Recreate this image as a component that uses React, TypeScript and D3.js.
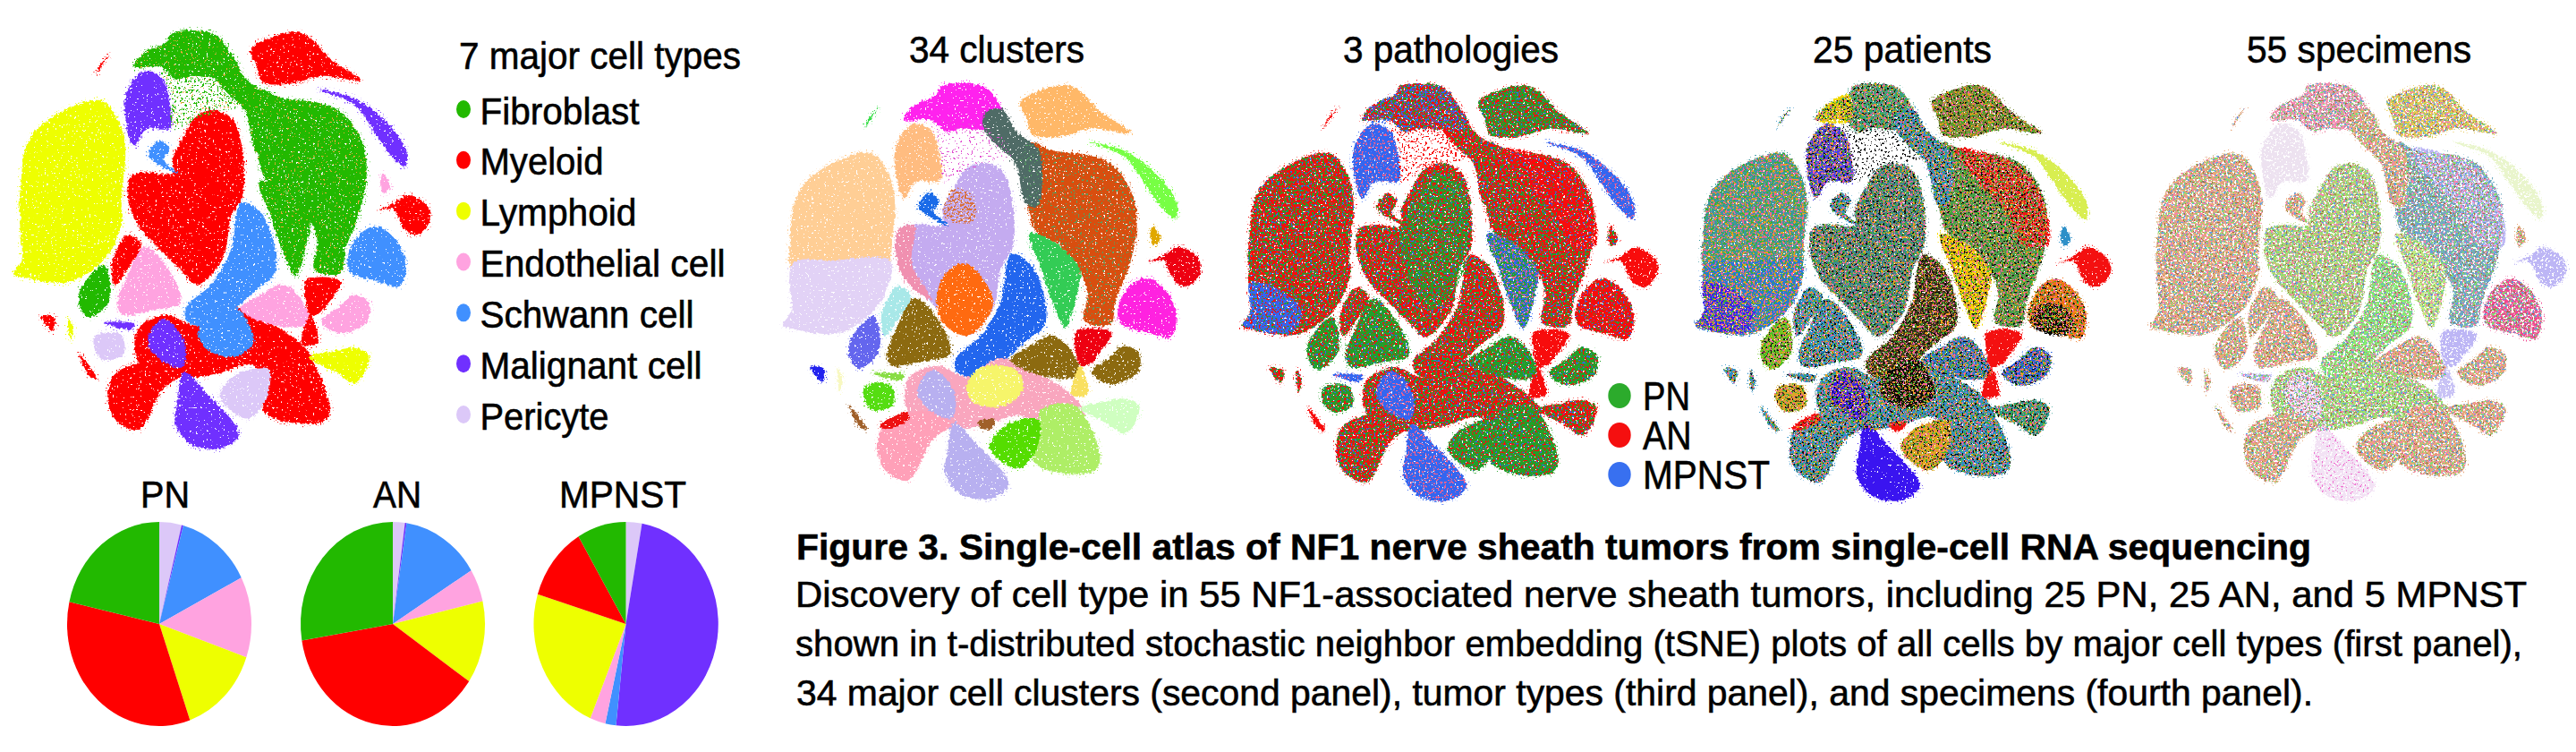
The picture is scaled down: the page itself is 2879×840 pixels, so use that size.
import * as d3 from "d3";

// cell types, legend order
const cellTypes = ["Fibroblast", "Myeloid", "Lymphoid", "Endothelial cell", "Schwann cell", "Malignant cell", "Pericyte"];
const cellColors = ["#22B900", "#FF0000", "#EEFF00", "#FFA3E0", "#4090FF", "#7030FF", "#DCC8F8"];

// pie shares (%), clockwise from 12 o'clock
const pieOrder = ["Pericyte", "Malignant cell", "Schwann cell", "Endothelial cell", "Lymphoid", "Myeloid", "Fibroblast"];
const pnShares = [3.9, 0.3, 13.3, 12.8, 14.3, 33.9, 21.5];
const anShares = [2.1, 0.3, 13.8, 5.2, 13.1, 37.9, 27.6];
const mpnstShares = [2.8, 48.9, 1.9, 2.7, 23.4, 11.7, 8.6];

// tSNE islands
type Pt = [number, number];
const redRing: Pt[] = [[480,1015],[540,1060],[610,1130],[640,1200],[600,1250],[545,1235],[510,1205],[440,1235],[375,1250],[300,1235],[275,1150],[285,1080],[340,1040],[395,1075],[440,1060]];
const lobeRight: Pt[] = [[550,1190],[620,1170],[672,1340],[662,1388],[580,1392],[535,1350],[550,1240]];
const lobeLeft: Pt[] = [[320,1190],[370,1230],[330,1290],[295,1400],[280,1422],[235,1385],[220,1310],[235,1235]];
const pinkLeft: Pt[] = [[295,815],[340,880],[368,1000],[312,1025],[250,1040],[240,1000],[258,920]];
const redLeft: Pt[] = [[262,775],[288,810],[262,885],[235,940],[228,880],[240,820]];
const greenLeft: Pt[] = [[212,875],[224,990],[182,1048],[163,1010],[165,955]];
const lymphoidUpper: Pt[] = [[205,333],[242,400],[256,500],[250,620],[246,700],[235,740],[130,700],[48,720],[44,600],[58,470],[100,395]];
const lymphoidLower: Pt[] = [[246,690],[238,790],[205,870],[140,932],[50,918],[28,905],[45,860],[48,700],[130,690]];
const malignantUpper: Pt[] = [[292,238],[329,257],[347,346],[347,425],[298,429],[274,484],[256,385],[259,306]];
const fibroTop: Pt[] = [[350,112],[438,115],[474,188],[490,250],[438,257],[389,252],[359,262],[329,223],[274,223],[292,178],[341,139]];
const fibroNeck: Pt[] = [[438,200],[474,188],[499,257],[529,297],[550,330],[545,510],[523,503],[499,365],[462,306],[438,257]];
const fibroMain: Pt[] = [[529,297],[577,326],[650,341],[699,375],[741,484],[746,602],[729,720],[705,818],[693,902],[641,892],[647,798],[632,730],[590,640],[545,600],[529,540],[523,440],[510,360]];
const fibroLeg: Pt[] = [[529,600],[575,625],[620,690],[632,730],[626,798],[602,912],[578,838],[553,720]];
const topRed: Pt[] = [[596,108],[626,120],[675,198],[735,267],[656,252],[596,277],[535,272],[523,218],[511,164]];
const strip: Pt[] = [[650,298],[720,325],[785,400],[828,500],[825,552],[795,510],[760,430],[720,345]];
const myeloid: Pt[] = [[438,366],[474,395],[493,484],[495,641],[471,720],[456,848],[420,925],[400,940],[365,887],[316,808],[280,739],[261,651],[268,582],[300,570],[353,572],[353,523],[377,444],[401,385]];
const myeloidOrange: Pt[] = [[395,700],[430,740],[455,830],[435,900],[400,940],[355,900],[340,820],[360,730]];
const myeloidPink: Pt[] = [[262,590],[295,575],[290,700],[330,820],[290,780],[262,700]];
const myeloidFleck: Pt[] = [[375,452],[415,480],[418,560],[380,565],[355,540]];
const myeloidCore: Pt[] = [[430,400],[480,450],[490,620],[470,760],[420,850],[370,760],[350,600],[380,480]];
const blueSmall: Pt[] = [[325,465],[345,490],[335,530],[365,575],[325,545],[303,510]];
const redRight: Pt[] = [[830,645],[870,680],[876,730],[850,775],[825,760],[800,690],[770,695],[800,675]];
const goldSliver: Pt[] = [[780,575],[795,620],[780,640],[775,600]];
const blueRight: Pt[] = [[765,748],[805,790],[827,870],[815,945],[770,930],[715,900],[708,860],[730,780]];
const blueRightCore: Pt[] = [[740,830],[790,850],[800,920],[760,935],[715,900],[725,850]];
const schwannUpper: Pt[] = [[492,670],[529,700],[559,808],[559,907],[523,956],[480,1020],[440,1075],[385,1065],[378,1020],[430,940],[470,830]];
const schwannLower: Pt[] = [[440,1035],[480,1015],[507,1070],[517,1130],[482,1177],[430,1162],[404,1110],[415,1065]];
const yellowDisc: Pt[] = [[460,1037],[505,1060],[517,1110],[495,1160],[455,1177],[415,1160],[401,1110],[420,1055]];
const pinkMid: Pt[] = [[575,940],[612,985],[630,1070],[560,1075],[490,1020],[530,975]];
const redSmall: Pt[] = [[625,925],[695,930],[670,1000],[650,1035],[632,1040],[622,980]];
const redThin: Pt[] = [[632,1040],[648,1132],[615,1138]];
const pinkRight: Pt[] = [[720,975],[752,1000],[747,1065],[690,1100],[655,1060],[690,1015]];
const yellowSmall: Pt[] = [[630,1180],[680,1160],[725,1150],[752,1175],[725,1265],[680,1225]];
const pericyte: Pt[] = [[195,1108],[247,1105],[252,1170],[210,1187],[193,1150]];
const pericyteLower: Pt[] = [[547,1218],[542,1320],[505,1382],[448,1310],[480,1240]];
const malignantCentre: Pt[] = [[335,1053],[377,1130],[372,1212],[335,1197],[303,1140],[308,1090]];
const malignantLower: Pt[] = [[375,1228],[422,1300],[487,1435],[450,1480],[390,1467],[358,1400],[363,1320]];
const sliverTop: Pt[] = [[222,185],[205,225],[195,250],[205,215]];
const sliverLeft: Pt[] = [[85,1045],[112,1050],[108,1095]];
const sliverYellow: Pt[] = [[140,1050],[150,1085],[143,1125]];
const sliverPurple: Pt[] = [[212,1065],[275,1070],[268,1088]];
const sliverBottom: Pt[] = [[162,1170],[198,1250],[185,1245]];
const redBar: Pt[] = [[225,1240],[280,1195],[285,1215],[235,1250]];
const fleck: Pt[] = [[424,1225],[459,1220],[450,1248],[430,1248]];
const hole: Pt[] = [[330,235],[450,250],[495,345],[440,370],[380,410],[352,430],[345,300]];
const bandRight: Pt[] = [[560,320],[640,340],[700,390],[745,520],[748,640],[700,640],[660,520],[600,420]];
const lymphoidEdge: Pt[] = [[45,760],[110,790],[150,860],[130,925],[50,915],[30,900],[45,860]];
const fibroEdge: Pt[] = [[274,223],[292,178],[341,139],[345,225]];

const shapes: Record<string, Pt[]> = {
  redRing, lobeRight, lobeLeft, pinkLeft, redLeft, greenLeft, lymphoidUpper, lymphoidLower,
  malignantUpper, fibroTop, fibroMain, fibroNeck, fibroLeg, topRed, strip, myeloid,
  blueSmall, redRight, goldSliver, blueRight, schwannUpper, schwannLower, pinkMid, redSmall,
  redThin, pinkRight, yellowSmall, pericyte, pericyteLower, malignantCentre, malignantLower,
  sliverTop, sliverLeft, sliverYellow, sliverPurple, sliverBottom,
  redBar, fleck, myeloidOrange, myeloidPink, myeloidFleck, myeloidCore, yellowDisc,
  blueRightCore, bandRight, lymphoidEdge, fibroEdge, hole,
};
const names = Object.keys(shapes);
const extras = ["redBar", "fleck", "myeloidOrange", "myeloidPink", "myeloidFleck", "myeloidCore", "yellowDisc", "blueRightCore", "bandRight", "lymphoidEdge", "fibroEdge", "hole"];
const islands = names.filter((n) => !extras.includes(n));

type Colors = Record<string, string>;
const paint = (color: string, over: Colors = {}, skip: string[] = []): Colors => {
  const out: Colors = {};
  islands.filter((n) => !skip.includes(n)).forEach((n) => (out[n] = color));
  return { ...out, ...over };
};
const byNames = (list: string[], color: string): Colors => Object.fromEntries(list.map((n) => [n, color]));

const [cGreen, cRed, cYellow, cPink, cBlue, cPurple, cLav] = cellColors;
const typeMap: Colors = {
  redRing: cRed, lobeRight: cRed, lobeLeft: cRed, pinkLeft: cPink, redLeft: cRed, greenLeft: cGreen,
  lymphoidUpper: cYellow, lymphoidLower: cYellow, malignantUpper: cPurple, fibroTop: cGreen, fibroMain: cGreen,
  fibroNeck: cGreen, fibroLeg: cGreen, topRed: cRed, strip: cPurple, myeloid: cRed, blueSmall: cBlue,
  redRight: cRed, goldSliver: cPink, blueRight: cBlue, schwannUpper: cBlue, schwannLower: cBlue, pinkMid: cPink,
  redSmall: cRed, redThin: cRed, pinkRight: cPink, yellowSmall: cYellow, pericyte: cLav, pericyteLower: cLav,
  malignantCentre: cPurple, malignantLower: cPurple, sliverTop: cRed, sliverLeft: cRed, sliverYellow: cYellow,
  sliverPurple: cPurple, sliverBottom: cRed,
};
const clusterMap: Colors = {
  redRing: "#F9A6BE", lobeRight: "#AEEE66", lobeLeft: "#FFA0B8", pinkLeft: "#8C6A10", redLeft: "#A8E8E8", greenLeft: "#6466EE",
  lymphoidUpper: "#FFCE95", lymphoidLower: "#E2D2F6", malignantUpper: "#FFBC80", fibroTop: "#FF22EE", fibroMain: "#D84E0F",
  fibroNeck: "#4F6B66", fibroLeg: "#33CC55", topRed: "#FFB868", strip: "#77FF44", myeloid: "#C4ABF0", blueSmall: "#1A6BE8",
  redRight: "#EE0011", goldSliver: "#E0A800", blueRight: "#FF22E0", schwannUpper: "#2266EE", schwannLower: "#F9A6BE", pinkMid: "#8C6A10",
  redSmall: "#EE0011", redThin: "#F9E060", pinkRight: "#8C6A10", yellowSmall: "#CFFFC0", pericyte: "#55DD11", pericyteLower: "#55DD00",
  malignantCentre: "#B8B0F0", malignantLower: "#B8B0F0", sliverTop: "#33DD44", sliverLeft: "#2222EE", sliverYellow: "#F8F8C0",
  sliverPurple: "#88DD44", sliverBottom: "#A0602A", redBar: "#EE1111", fleck: "#A0602A",
  myeloidOrange: "#FF6A10", myeloidPink: "#F090B0", yellowDisc: "#F6F56A",
};

const pRed = "#F80C0C", pGreen = "#22A028", pBlue = "#3366F0";
const pathBlue = ["malignantUpper", "strip", "malignantCentre", "malignantLower", "sliverPurple", "fibroLeg"];
const pathGreenBase = ["pinkLeft", "pinkMid", "pinkRight", "greenLeft", "pericyteLower", "lobeRight", "pericyte"];
const pathPure = ["redRight", "redSmall", "redThin", "sliverBottom", "sliverTop"];
const fibroShapes = ["fibroTop", "fibroMain", "fibroNeck", "fibroLeg", "hole"];

type Layer = { colors: Colors; cut?: number; seed?: number };
type Panel = { layers: Layer[] };

const typesPanel: Panel = {
  layers: [
    { colors: typeMap },
    { colors: paint("#FFFFFF"), cut: 0.7, seed: 4 },
    { colors: byNames(fibroShapes, "#F0A838"), cut: 0.7, seed: 15 },
    { colors: { hole: cGreen }, cut: 0.6, seed: 9 },
  ],
};
const clustersPanel: Panel = {
  layers: [
    { colors: clusterMap },
    { colors: { myeloidFleck: "#D8703A" }, cut: 0.53, seed: 5 },
    { colors: paint("#FFFFFF"), cut: 0.69, seed: 4 },
    { colors: { fibroMain: "#55A060", hole: "#E050D0" }, cut: 0.66, seed: 6 },
  ],
};
const pathologyPanel: Panel = {
  layers: [
    { colors: paint(pRed, { ...byNames(pathBlue, pBlue), ...byNames(pathGreenBase, pGreen) }) },
    { colors: paint(pGreen, { ...byNames(pathBlue, pBlue), ...byNames(pathGreenBase, pGreen) }, pathPure), cut: 0.53, seed: 2 },
    { colors: { myeloidCore: pGreen, topRed: pGreen, fibroLeg: pGreen }, cut: 0.48, seed: 12 },
    { colors: { bandRight: pRed, lymphoidEdge: pBlue, malignantUpper: pBlue, blueRight: pRed }, cut: 0.42, seed: 7 },
    { colors: { fibroEdge: pBlue, fibroTop: pBlue }, cut: 0.56, seed: 17 },
    { colors: paint(pBlue, {}, pathPure), cut: 0.65, seed: 3 },
    { colors: { ...byNames(pathGreenBase, pRed), ...byNames(pathBlue, "#F06090"), hole: pRed }, cut: 0.6, seed: 11 },
    { colors: paint("#FFFFFF"), cut: 0.69, seed: 4 },
  ],
};
const plainPatients = ["malignantCentre", "malignantLower", "redRight", "redSmall", "redThin", "strip", "goldSliver"];
const patientsPanel: Panel = {
  layers: [
    {
      colors: paint("#2E90C8", {
        malignantCentre: "#3A14F0", malignantLower: "#3A14F0", redRight: "#F41010", redSmall: "#F41010", redThin: "#F41010",
        strip: "#D8EE50", fibroMain: "#4C9C50", fibroLeg: "#F8DA00", schwannUpper: "#3A3018", schwannLower: "#100C06",
        blueRight: "#F07010", topRed: "#788C30", malignantUpper: "#4A40E8", lymphoidLower: "#2878D8",
        fibroTop: "#3CA088", greenLeft: "#70C820", pinkMid: "#2878D0", pinkRight: "#2460E0", yellowSmall: "#2A9A90",
        pericyte: "#D8A828", pericyteLower: "#E0A820", myeloid: "#3C8890", lymphoidUpper: "#3C98A0", redBar: "#F41010", fleck: "#F41010",
      }),
    },
    { colors: { bandRight: "#F41414", blueRightCore: "#060606", lymphoidEdge: "#3A14F0", fibroEdge: "#F0D800" }, cut: 0.4, seed: 8 },
    { colors: paint("#F0A018", {}, plainPatients), cut: 0.57, seed: 2 },
    { colors: paint("#38B030", {}, plainPatients), cut: 0.59, seed: 13 },
    { colors: paint("#F860A0", {}, plainPatients), cut: 0.61, seed: 3 },
    { colors: paint("#0A0A0A", { hole: "#0A0A0A" }, [...plainPatients, "lymphoidUpper", "lymphoidLower"]), cut: 0.63, seed: 5 },
    { colors: paint("#FFFFFF"), cut: 0.7, seed: 4 },
  ],
};
const plainSpecimens = ["redRight", "redSmall", "redThin", "strip", "malignantUpper", "malignantLower", "malignantCentre"];
const specimensPanel: Panel = {
  layers: [
    {
      colors: paint("#E8A878", {
        redRight: "#BDB6F5", redSmall: "#BDB6F5", redThin: "#C8C2F5", strip: "#E9F5CC", malignantLower: "#F2E2F4",
        malignantCentre: "#F3D8F6", malignantUpper: "#EDE2F0", schwannUpper: "#88EC70", schwannLower: "#A8EA70",
        fibroLeg: "#C6EC80", topRed: "#E8C850", myeloid: "#B4D870", fibroMain: "#70A8C0", redRing: "#A8E070",
        blueRight: "#F04890", fibroTop: "#F098B0", sliverPurple: "#C0BCF5",
      }),
    },
    { colors: { bandRight: "#BDB6F5" }, cut: 0.38, seed: 8 },
    { colors: paint("#80E070", {}, plainSpecimens), cut: 0.56, seed: 2 },
    { colors: paint("#F880B0", {}, plainSpecimens), cut: 0.58, seed: 3 },
    { colors: paint("#60A0E0", {}, plainSpecimens), cut: 0.62, seed: 13 },
    { colors: paint("#A07040", { malignantLower: "#F070D0" }, plainSpecimens), cut: 0.66, seed: 5 },
    { colors: paint("#FFFFFF"), cut: 0.6, seed: 4 },
  ],
};

const panelTitles = ["7 major cell types", "34 clusters", "3 pathologies", "25 patients", "55 specimens"];
const pathologies = ["PN", "AN", "MPNST"];
const pathologyColors = ["#2CAB2C", "#F50F0F", "#3870F0"];
const captionTitle = "Figure 3. Single-cell atlas of NF1 nerve sheath tumors from single-cell RNA sequencing";
const captionLines = [
  "Discovery of cell type in 55 NF1-associated nerve sheath tumors, including 25 PN, 25 AN, and 5 MPNST",
  "shown in t-distributed stochastic neighbor embedding (tSNE) plots of all cells by major cell types (first panel),",
  "34 major cell clusters (second panel), tumor types (third panel), and specimens (fourth panel).",
];

const W = 2879;
const H = 840;
const FONT = "'Liberation Sans', Arial, sans-serif";

// layout: [left, right, top, bottom] of each embedding
const frames: { box: number[]; panel: Panel }[] = [
  { box: [16, 480, 35, 500], panel: typesPanel },
  { box: [876, 1341, 94, 556], panel: clustersPanel },
  { box: [1389, 1852, 94, 558], panel: pathologyPanel },
  { box: [1896, 2358, 94, 558], panel: patientsPanel },
  { box: [2404, 2867, 94, 558], panel: specimensPanel },
];

const cuts = Array.from(new Set(frames.flatMap((f) => f.panel.layers.map((l) => `${l.cut ?? 0}|${l.seed ?? 0}`))));
const filterId = (cut?: number, seed?: number) => (cut ? `sp-${String(cut).replace(".", "")}-${seed}` : "rough");

function Squeezed({ x, y, w, size, children, weight }: { x: number; y: number; w: number; size: number; children: string; weight?: number }) {
  return (
    <text x={x} y={y} textLength={w} lengthAdjust="spacingAndGlyphs" fontSize={size} fontFamily={FONT} fontWeight={weight ?? 400} fill="#000" stroke="#000" strokeWidth={0.6}>
      {children}
    </text>
  );
}

function Embedding({ box, panel }: { box: number[]; panel: Panel }) {
  const x = d3.scaleLinear().domain([30, 875]).range([box[0], box[1]]);
  const y = d3.scaleLinear().domain([105, 1478]).range([box[2], box[3]]);
  const line = d3.line<Pt>().x((d) => x(d[0])).y((d) => y(d[1])).curve(d3.curveCatmullRomClosed.alpha(0.5));
  const base = panel.layers[0].colors;
  return (
    <g>
      <g filter="url(#fuzz)">
        {names.filter((n) => base[n] && n !== "hole").map((n) => (
          <path key={n} d={line(shapes[n]) ?? ""} fill="none" stroke={base[n]} strokeWidth={8} />
        ))}
      </g>
      {panel.layers.map((layer, i) => (
        <g key={i} filter={`url(#${filterId(layer.cut, layer.seed)})`}>
          {names.filter((n) => layer.colors[n]).map((n) => (
            <path key={n} d={line(shapes[n]) ?? ""} fill={layer.colors[n]} />
          ))}
        </g>
      ))}
    </g>
  );
}

function Pie({ title, shares, cx, tx, tw }: { title: string; shares: number[]; cx: number; tx: number; tw: number }) {
  const color = d3.scaleOrdinal<string, string>().domain(cellTypes).range(cellColors);
  const arcs = d3.pie<number>().sort(null)(shares);
  const arc = d3.arc<d3.PieArcDatum<number>>().innerRadius(0).outerRadius(1);
  return (
    <g>
      <Squeezed x={tx} y={567} w={tw} size={43}>{title}</Squeezed>
      <g transform={`translate(${cx},697) scale(103,114)`}>
        {arcs.map((a, i) => (
          <path key={i} d={arc(a) ?? ""} fill={color(pieOrder[i])} />
        ))}
      </g>
    </g>
  );
}

export default function App() {
  const legendY = d3.scalePoint<string>().domain(cellTypes).range([122, 463]);
  const legendW = [178, 138, 175, 274, 239, 248, 144];
  const pathY = d3.scalePoint<string>().domain(pathologies).range([442, 530]);
  const pathW = [53, 54.5, 142];
  return (
    <svg width={W} height={H} viewBox={`0 0 ${W} ${H}`} style={{ position: "absolute", left: 0, top: 0, background: "#fff" }}>
      <defs>
        <filter id="rough" x="-5%" y="-5%" width="110%" height="110%" colorInterpolationFilters="sRGB">
          <feTurbulence type="fractalNoise" baseFrequency="0.4" numOctaves={1} seed={3} result="w" />
          <feDisplacementMap in="SourceGraphic" in2="w" scale={6} xChannelSelector="R" yChannelSelector="G" />
        </filter>
        <filter id="fuzz" x="-5%" y="-5%" width="110%" height="110%" colorInterpolationFilters="sRGB">
          <feTurbulence type="fractalNoise" baseFrequency="0.6" numOctaves={1} seed={21} />
          <feColorMatrix values="0 0 0 0 0 0 0 0 0 0 0 0 0 0 0 0 0 0 12 -7.7" result="m" />
          <feComposite in="SourceGraphic" in2="m" operator="in" />
        </filter>
        {cuts.filter((c) => !c.startsWith("0|")).map((c) => {
          const [cut, seed] = c.split("|").map(Number);
          return (
            <filter key={c} id={filterId(cut, seed)} x="-5%" y="-5%" width="110%" height="110%" colorInterpolationFilters="sRGB">
              <feTurbulence type="fractalNoise" baseFrequency="0.4" numOctaves={1} seed={3} result="w" />
              <feDisplacementMap in="SourceGraphic" in2="w" scale={6} xChannelSelector="R" yChannelSelector="G" result="d" />
              <feTurbulence type="fractalNoise" baseFrequency="0.42" numOctaves={2} seed={seed} />
              <feColorMatrix values={`0 0 0 0 0 0 0 0 0 0 0 0 0 0 0 0 0 0 40 ${-40 * cut}`} result="m" />
              <feComposite in="d" in2="m" operator="in" />
            </filter>
          );
        })}
      </defs>

      {frames.map((f, i) => (
        <Embedding key={i} box={f.box} panel={f.panel} />
      ))}

      {/* first panel legend */}
      <Squeezed x={513} y={77} w={315} size={43}>{panelTitles[0]}</Squeezed>
      {cellTypes.map((t, i) => (
        <g key={t}>
          <ellipse cx={518} cy={legendY(t)} rx={8} ry={10} fill={cellColors[i]} />
          <Squeezed x={536.5} y={(legendY(t) ?? 0) + 16.5} w={legendW[i]} size={43}>{t}</Squeezed>
        </g>
      ))}

      <Pie title="PN" shares={pnShares} cx={178} tx={157} tw={55} />
      <Pie title="AN" shares={anShares} cx={439} tx={417} tw={54} />
      <Pie title="MPNST" shares={mpnstShares} cx={699.5} tx={625} tw={142} />

      <Squeezed x={1016} y={70} w={196} size={43}>{panelTitles[1]}</Squeezed>
      <Squeezed x={1501} y={70} w={241} size={43}>{panelTitles[2]}</Squeezed>
      <Squeezed x={2026} y={70} w={200} size={43}>{panelTitles[3]}</Squeezed>
      <Squeezed x={2511} y={70} w={251} size={43}>{panelTitles[4]}</Squeezed>

      {/* pathology key */}
      {pathologies.map((p, i) => (
        <g key={p}>
          <ellipse cx={1810} cy={pathY(p)} rx={12.7} ry={14} fill={pathologyColors[i]} />
          <Squeezed x={1836} y={(pathY(p) ?? 0) + 16} w={pathW[i]} size={44}>{p}</Squeezed>
        </g>
      ))}

      {/* caption */}
      <Squeezed x={890} y={625} w={1693} size={41} weight={700}>{captionTitle}</Squeezed>
      <Squeezed x={889} y={678} w={1935} size={41}>{captionLines[0]}</Squeezed>
      <Squeezed x={889} y={733} w={1930} size={41}>{captionLines[1]}</Squeezed>
      <Squeezed x={890} y={788} w={1695} size={41}>{captionLines[2]}</Squeezed>
    </svg>
  );
}
